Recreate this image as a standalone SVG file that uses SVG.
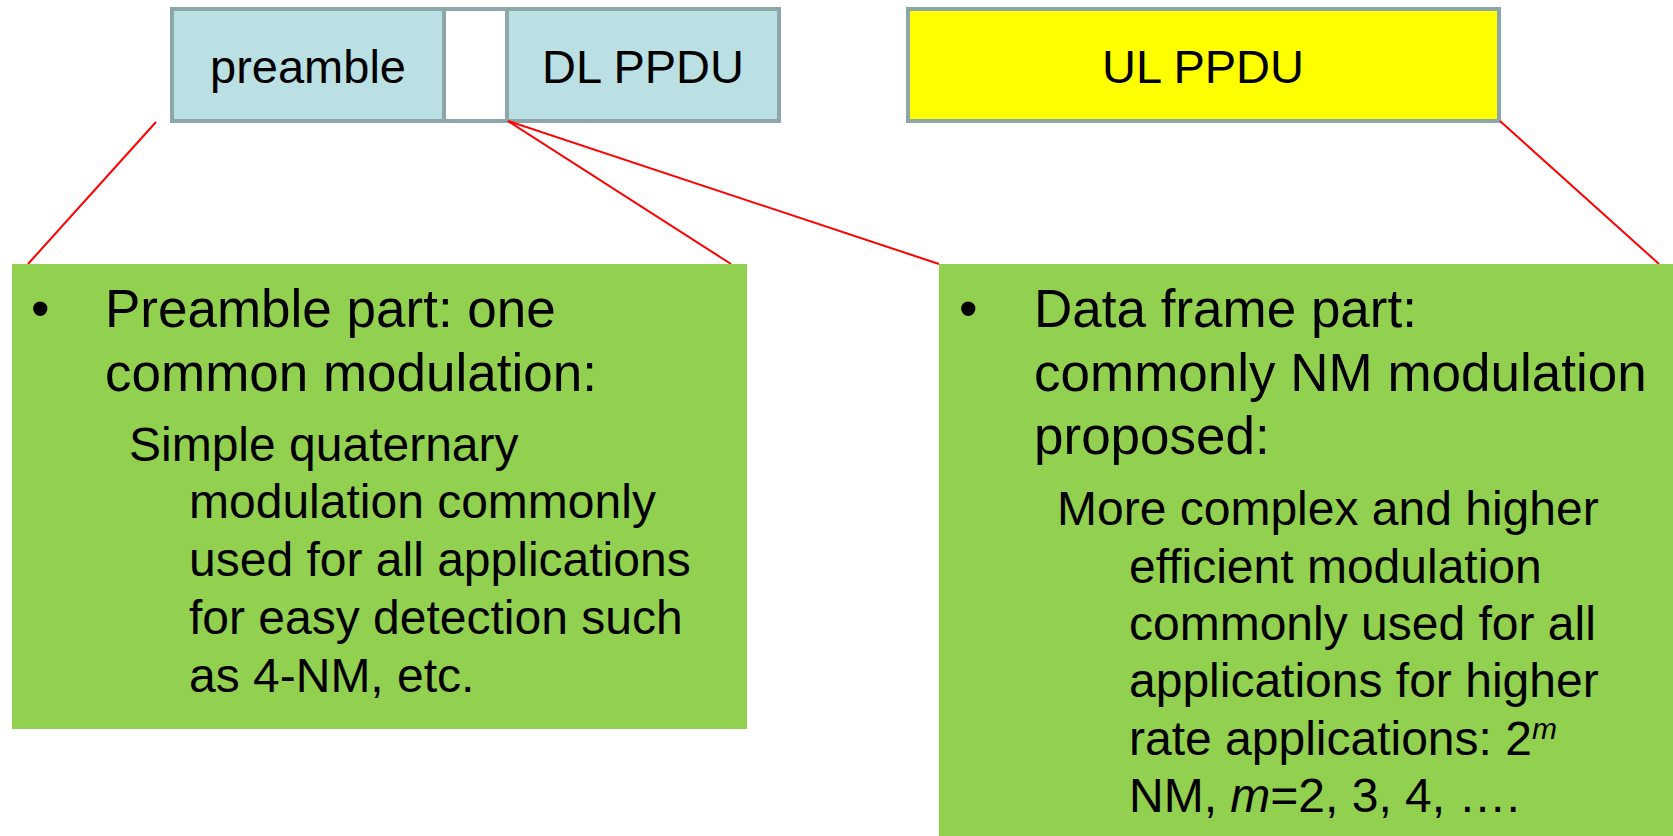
<svg xmlns="http://www.w3.org/2000/svg" width="1673" height="836" viewBox="0 0 1673 836">
  <style>
    .cell { fill: #bbe0e3; stroke: #8da6a9; stroke-width: 4; }
    .gap { fill: #ffffff; stroke: #8da6a9; stroke-width: 4; }
    .ul { fill: #ffff00; stroke: #8da6a9; stroke-width: 4; }
    .note { fill: #92d050; }
    .lbl { font-family: "Liberation Sans", Arial, sans-serif; font-size: 47px; fill: #000; text-anchor: middle; }
    .main { font-family: "Liberation Sans", Arial, sans-serif; font-size: 53px; fill: #000; }
    .sub { font-family: "Liberation Sans", Arial, sans-serif; font-size: 48px; fill: #000; }
    .conn { stroke: #ff0000; stroke-width: 2; fill: none; }
  </style>
  <rect width="1673" height="836" fill="#ffffff"/>

  <g id="preamble-cell">
    <rect class="cell" x="172" y="9" width="272" height="112"/>
    <text class="lbl" x="308" y="83">preamble</text>
  </g>
  <g id="gap-cell">
    <rect class="gap" x="444" y="9" width="63" height="112"/>
  </g>
  <g id="dl-ppdu">
    <rect class="cell" x="507" y="9" width="272" height="112"/>
    <text class="lbl" x="643" y="83">DL PPDU</text>
  </g>
  <g id="ul-ppdu">
    <rect class="ul" x="908" y="9" width="591" height="112"/>
    <text class="lbl" x="1203" y="83">UL PPDU</text>
  </g>

  <g id="connectors">
    <line class="conn" x1="156" y1="122" x2="28" y2="264"/>
    <line class="conn" x1="508" y1="121" x2="731" y2="264"/>
    <line class="conn" x1="508" y1="121" x2="939" y2="264"/>
    <line class="conn" x1="1500" y1="121" x2="1659" y2="264"/>
  </g>

  <g id="preamble-note">
    <rect class="note" x="12" y="264" width="735" height="465"/>
    <text class="main" x="31" y="327">•</text>
    <text class="main" x="105" y="327">Preamble part: one</text>
    <text class="main" x="105" y="390.5">common modulation:</text>
    <text class="sub" x="129" y="460.5">Simple quaternary</text>
    <text class="sub" x="189" y="518">modulation commonly</text>
    <text class="sub" x="189" y="576">used for all applications</text>
    <text class="sub" x="189" y="634">for easy detection such</text>
    <text class="sub" x="189" y="691.5">as 4-NM, etc.</text>
  </g>

  <g id="data-note">
    <rect class="note" x="939" y="264" width="734" height="572"/>
    <text class="main" x="959" y="327">•</text>
    <text class="main" x="1034" y="327">Data frame part:</text>
    <text class="main" x="1034" y="390.5">commonly NM modulation</text>
    <text class="main" x="1034" y="453.5">proposed:</text>
    <text class="sub" x="1057" y="525">More complex and higher</text>
    <text class="sub" x="1129" y="582.5">efficient modulation</text>
    <text class="sub" x="1129" y="640">commonly used for all</text>
    <text class="sub" x="1129" y="697">applications for higher</text>
    <text class="sub" x="1129" y="754.5">rate applications: 2<tspan font-size="30" font-style="italic" dy="-16">m</tspan></text>
    <text class="sub" x="1129" y="812">NM, <tspan font-style="italic">m</tspan>=2, 3, 4, ….</text>
  </g>
</svg>
